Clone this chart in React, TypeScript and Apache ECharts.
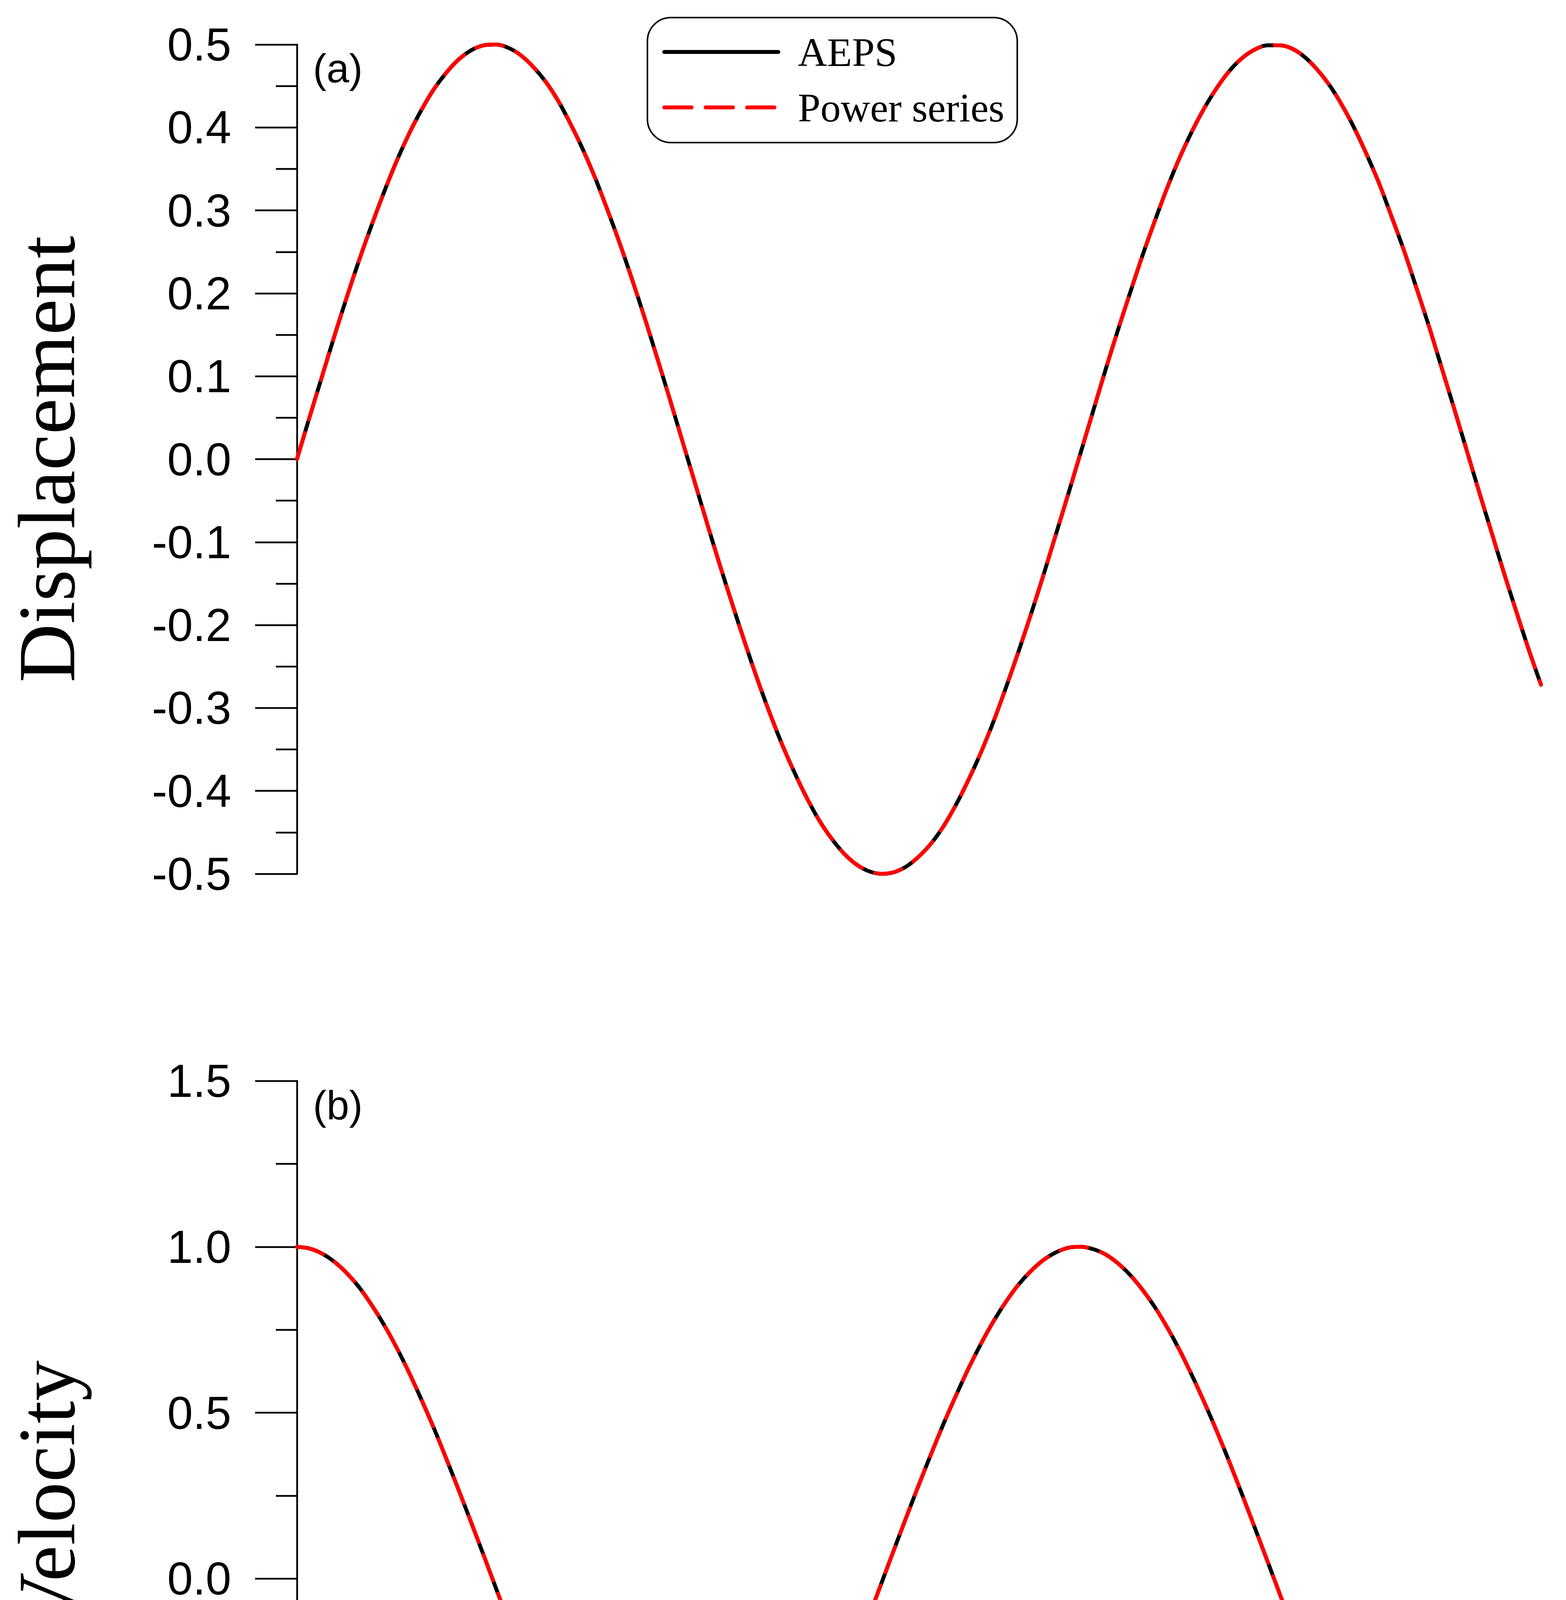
import React, { useEffect, useRef } from "react";
import * as echarts from "echarts";

// ---- data (t in s, step 0.05) ----
const timeS = [
  0, 0.05, 0.1, 0.15, 0.2, 0.25, 0.3, 0.35, 0.4, 0.45, 0.5, 0.55, 0.6, 0.65, 0.7, 0.75, 0.8, 0.85, 0.9, 0.95,
  1.0, 1.05, 1.1, 1.15, 1.2, 1.25, 1.3, 1.35, 1.4, 1.45, 1.5, 1.55, 1.6, 1.65, 1.7, 1.75, 1.8, 1.85, 1.9, 1.95,
  2.0, 2.05, 2.1, 2.15, 2.2, 2.25, 2.3, 2.35, 2.4, 2.45, 2.5, 2.55, 2.6, 2.65, 2.7, 2.75, 2.8, 2.85, 2.9, 2.95,
  3.0, 3.05, 3.1, 3.15, 3.2, 3.25, 3.3, 3.35, 3.4, 3.45, 3.5, 3.55, 3.6, 3.65, 3.7, 3.75, 3.8, 3.85, 3.9, 3.95,
  4.0, 4.05, 4.1, 4.15, 4.2, 4.25, 4.3, 4.35, 4.4, 4.45, 4.5, 4.55, 4.6, 4.65, 4.7, 4.75, 4.8, 4.85, 4.9, 4.95,
  5.0,
];

const aepsDisplacement = [
  0, 0.05, 0.099, 0.148, 0.195, 0.24, 0.282, 0.322, 0.359, 0.392,
  0.421, 0.446, 0.466, 0.482, 0.493, 0.499, 0.5, 0.496, 0.487, 0.473,
  0.455, 0.432, 0.404, 0.373, 0.338, 0.299, 0.258, 0.214, 0.168, 0.12,
  0.071, 0.021, -0.029, -0.079, -0.128, -0.175, -0.221, -0.265, -0.306, -0.344,
  -0.378, -0.409, -0.436, -0.458, -0.476, -0.489, -0.497, -0.5, -0.498, -0.491,
  -0.479, -0.463, -0.442, -0.416, -0.386, -0.353, -0.316, -0.275, -0.232, -0.187,
  -0.14, -0.091, -0.042, 0.008, 0.058, 0.108, 0.156, 0.202, 0.247, 0.289,
  0.329, 0.365, 0.397, 0.425, 0.449, 0.469, 0.484, 0.494, 0.499, 0.499,
  0.495, 0.485, 0.47, 0.451, 0.427, 0.399, 0.367, 0.332, 0.292, 0.251,
  0.206, 0.16, 0.111, 0.062, 0.012, -0.038, -0.087, -0.136, -0.183, -0.229,
  -0.272,
];
const powerSeriesDisplacement = [
  0, 0.05, 0.099, 0.148, 0.195, 0.24, 0.282, 0.322, 0.359, 0.392,
  0.421, 0.446, 0.466, 0.482, 0.493, 0.499, 0.5, 0.496, 0.487, 0.473,
  0.455, 0.432, 0.404, 0.373, 0.338, 0.299, 0.258, 0.214, 0.168, 0.12,
  0.071, 0.021, -0.029, -0.079, -0.128, -0.175, -0.221, -0.265, -0.306, -0.344,
  -0.378, -0.409, -0.436, -0.458, -0.476, -0.489, -0.497, -0.5, -0.498, -0.491,
  -0.479, -0.463, -0.442, -0.416, -0.386, -0.353, -0.316, -0.275, -0.232, -0.187,
  -0.14, -0.091, -0.042, 0.008, 0.058, 0.108, 0.156, 0.202, 0.247, 0.289,
  0.329, 0.365, 0.397, 0.425, 0.449, 0.469, 0.484, 0.494, 0.499, 0.499,
  0.495, 0.485, 0.47, 0.451, 0.427, 0.399, 0.367, 0.332, 0.292, 0.251,
  0.206, 0.16, 0.111, 0.062, 0.012, -0.038, -0.087, -0.136, -0.183, -0.229,
  -0.272,
];
const aepsVelocity = [
  1.0, 0.995, 0.98, 0.955, 0.921, 0.878, 0.825, 0.765, 0.697, 0.622,
  0.54, 0.454, 0.362, 0.267, 0.17, 0.071, -0.029, -0.129, -0.227, -0.323,
  -0.416, -0.505, -0.589, -0.666, -0.737, -0.801, -0.857, -0.904, -0.942, -0.971,
  -0.99, -0.999, -0.998, -0.987, -0.967, -0.936, -0.897, -0.848, -0.791, -0.726,
  -0.654, -0.575, -0.49, -0.401, -0.307, -0.211, -0.112, -0.012, 0.088, 0.187,
  0.284, 0.378, 0.469, 0.554, 0.635, 0.709, 0.776, 0.835, 0.886, 0.927,
  0.96, 0.983, 0.997, 1.0, 0.993, 0.977, 0.95, 0.914, 0.869, 0.816,
  0.754, 0.685, 0.608, 0.526, 0.439, 0.347, 0.251, 0.153, 0.054, -0.046,
  -0.146, -0.243, -0.339, -0.431, -0.519, -0.602, -0.679, -0.749, -0.811, -0.865,
  -0.911, -0.948, -0.975, -0.992, -1.0, -0.997, -0.985, -0.962, -0.93, -0.889,
  -0.839,
];
const powerSeriesVelocity = [
  1.0, 0.995, 0.98, 0.955, 0.921, 0.878, 0.825, 0.765, 0.697, 0.622,
  0.54, 0.454, 0.362, 0.267, 0.17, 0.071, -0.029, -0.129, -0.227, -0.323,
  -0.416, -0.505, -0.589, -0.666, -0.737, -0.801, -0.857, -0.904, -0.942, -0.971,
  -0.99, -0.999, -0.998, -0.987, -0.967, -0.936, -0.897, -0.848, -0.791, -0.726,
  -0.654, -0.575, -0.49, -0.401, -0.307, -0.211, -0.112, -0.012, 0.088, 0.187,
  0.284, 0.378, 0.469, 0.554, 0.635, 0.709, 0.776, 0.835, 0.886, 0.927,
  0.96, 0.983, 0.997, 1.0, 0.993, 0.977, 0.95, 0.914, 0.869, 0.816,
  0.754, 0.685, 0.608, 0.526, 0.439, 0.347, 0.251, 0.153, 0.054, -0.046,
  -0.146, -0.243, -0.339, -0.431, -0.519, -0.602, -0.679, -0.749, -0.811, -0.865,
  -0.911, -0.948, -0.975, -0.992, -1.0, -0.997, -0.985, -0.962, -0.93, -0.889,
  -0.839,
];

const seriesNames = ["AEPS", "Power series"];
const panelLabels = ["(a)", "(b)"];
const yTitles = ["Displacement", "Velocity"];
const xTitle = "Time (s)";

const SANS = "'Liberation Sans', Arial, sans-serif";
const SERIF = "'Liberation Serif', 'Times New Roman', serif";
const BLACK = "#000000";
const RED = "#ff0000";

const zip = (xs: number[], ys: number[]) => xs.map((x, i) => [x, ys[i]]);

const axisLineStyle = { color: BLACK, width: 4.5 };

function yAxisCfg(gridIndex: number, min: number, max: number, interval: number, name: string) {
  return {
    gridIndex,
    type: "value",
    min,
    max,
    interval,
    name,
    nameLocation: "middle",
    nameGap: 640,
    nameRotate: 90,
    nameTextStyle: { fontFamily: SERIF, fontSize: 208, color: BLACK, verticalAlign: "middle" },
    axisLine: { show: true, onZero: false, lineStyle: axisLineStyle },
    axisTick: { show: true, inside: false, length: 107, lineStyle: axisLineStyle },
    minorTick: { show: true, splitNumber: 2, length: 54, lineStyle: axisLineStyle },
    splitLine: { show: false },
    minorSplitLine: { show: false },
    axisLabel: {
      show: true,
      margin: 168,
      fontFamily: SANS,
      fontSize: 118,
      color: BLACK,
      showMinLabel: true,
      showMaxLabel: true,
      hideOverlap: false,
      formatter: (v: number) => (Math.abs(v) < 1e-9 ? 0 : v).toFixed(1),
    },
  };
}

function lineSeries(name: string, axisIndex: number, ys: number[], dashed: boolean) {
  return {
    name,
    type: "line",
    xAxisIndex: axisIndex,
    yAxisIndex: axisIndex,
    data: zip(timeS, ys),
    symbol: "none",
    showSymbol: false,
    smooth: 0.3,
    clip: false,
    z: dashed ? 3 : 2,
    itemStyle: { color: dashed ? RED : BLACK },
    lineStyle: dashed
      ? { color: RED, width: 10, type: [70, 36], cap: "round", join: "round" }
      : { color: BLACK, width: 10, cap: "round", join: "round" },
    emphasis: { disabled: true },
  };
}

export default function App() {
  const ref = useRef<HTMLDivElement>(null);

  useEffect(() => {
    if (!ref.current) return;
    const chart = echarts.init(ref.current, undefined, { renderer: "svg" });
    const option: any = {
      animation: false,
      backgroundColor: "#ffffff",
      grid: [
        { left: 760, top: 114, width: 3184, height: 2123, containLabel: false, outerBoundsMode: "none" },
        { left: 760, top: 2767, width: 3184, height: 2124, containLabel: false, outerBoundsMode: "none" },
      ],
      xAxis: [
        { gridIndex: 0, type: "value", min: 0, max: 5, interval: 1, show: false },
        {
          gridIndex: 1,
          type: "value",
          min: 0,
          max: 5,
          interval: 1,
          name: xTitle,
          nameLocation: "middle",
          nameGap: 420,
          nameTextStyle: { fontFamily: SERIF, fontSize: 208, color: BLACK, verticalAlign: "middle" },
          axisLine: { show: true, onZero: false, lineStyle: axisLineStyle },
          axisTick: { show: true, inside: false, length: 105, lineStyle: axisLineStyle },
          minorTick: { show: true, splitNumber: 2, length: 54, lineStyle: axisLineStyle },
          splitLine: { show: false },
          minorSplitLine: { show: false },
          axisLabel: {
            show: true,
            margin: 224,
            verticalAlign: "middle",
            fontFamily: SANS,
            fontSize: 118,
            color: BLACK,
            showMinLabel: true,
            showMaxLabel: true,
            hideOverlap: false,
            alignMinLabel: "center",
            alignMaxLabel: "center",
            formatter: (v: number) => String(Math.round(v)),
          },
        },
      ],
      yAxis: [
        yAxisCfg(0, -0.5, 0.5, 0.1, yTitles[0]),
        yAxisCfg(1, -1.0, 1.5, 0.5, yTitles[1]),
      ],
      legend: {
        data: seriesNames,
        orient: "vertical",
        left: 1657,
        top: 45,
        padding: [36, 33, 38, 38],
        itemWidth: 292,
        itemHeight: 20,
        itemGap: 38,
        borderColor: BLACK,
        borderWidth: 4,
        borderRadius: 60,
        selectedMode: false,
        itemStyle: { color: "rgba(0,0,0,0)", borderWidth: 0, opacity: 0 },
        lineStyle: { width: 10 },
        textStyle: {
          fontFamily: SERIF,
          fontSize: 104,
          lineHeight: 104,
          color: BLACK,
          padding: [0, 0, 0, 45],
        },
      },
      graphic: [
        {
          type: "text",
          x: 801,
          y: 175,
          style: { text: panelLabels[0], fontFamily: SANS, fontSize: 104, fill: BLACK, align: "left", verticalAlign: "middle" },
        },
        {
          type: "text",
          x: 801,
          y: 2829,
          style: { text: panelLabels[1], fontFamily: SANS, fontSize: 104, fill: BLACK, align: "left", verticalAlign: "middle" },
        },
      ],
      series: [
        lineSeries(seriesNames[0], 0, aepsDisplacement, false),
        lineSeries(seriesNames[1], 0, powerSeriesDisplacement, true),
        lineSeries(seriesNames[0], 1, aepsVelocity, false),
        lineSeries(seriesNames[1], 1, powerSeriesVelocity, true),
      ],
    };
    chart.setOption(option);
    return () => chart.dispose();
  }, []);

  return (
    <div
      ref={ref}
      style={{ position: "absolute", left: 0, top: 0, width: 4008, height: 5460, background: "#fff" }}
    />
  );
}
